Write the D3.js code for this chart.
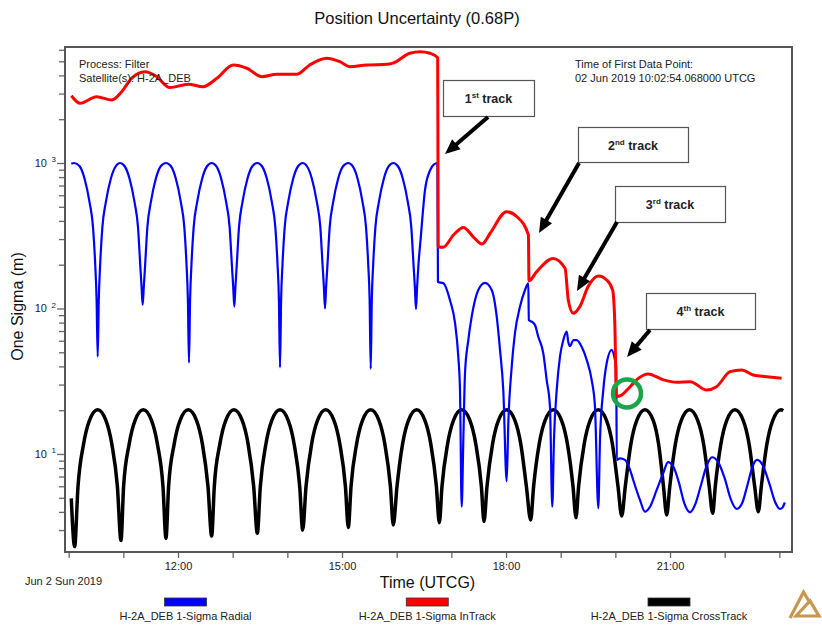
<!DOCTYPE html>
<html>
<head>
<meta charset="utf-8">
<script src="https://cdn.jsdelivr.net/npm/d3@7"></script>
<style>
  body { margin: 0; background: #fff; }
</style>
</head>
<body>
<div id="chart"></div>
<script>
// ---- data (time in decimal hours UTCG on 2 Jun 2019, sigma in metres) ----
const inTrack = [
  [10.05, 2900], [10.21, 2570], [10.51, 2855], [10.79, 2710], [10.97, 3090], [11.15, 3820],
  [11.40, 4240], [11.61, 3920], [11.85, 3300], [12.19, 3480], [12.46, 3345], [12.71, 3820],
  [13.01, 4720], [13.26, 4480], [13.53, 3920], [13.81, 4070], [14.17, 4070], [14.41, 4720],
  [14.72, 5250], [14.96, 4970], [15.15, 4590], [15.45, 4720], [15.82, 4765], [15.93, 4860],
  [16.24, 5680], [16.43, 5820], [16.61, 5680], [16.75, 5300], [16.76, 266], [16.85, 264],
  [17.04, 320], [17.22, 361], [17.40, 311], [17.56, 277], [17.71, 329], [18.01, 462],
  [18.20, 427], [18.41, 320], [18.42, 155], [18.56, 179], [18.86, 221], [19.08, 189],
  [19.14, 114], [19.23, 92.7], [19.35, 103], [19.50, 141], [19.69, 167], [19.84, 157],
  [19.95, 134], [19.99, 79], [20.02, 24.8], [20.12, 25.5], [20.27, 29], [20.42, 33.1],
  [20.60, 35.5], [20.88, 32.3], [21.12, 31.1], [21.37, 31.4], [21.67, 27.5], [21.85, 29],
  [22.10, 36.8], [22.31, 37.8], [22.52, 34.9], [22.77, 34], [23.04, 33.1]
];

const radial = [
  [10.048, 990], [10.10, 1000],
  [10.201, 950], [10.291, 780], [10.381, 540], [10.446, 360], [10.486, 200], [10.511, 115], [10.531, 46.7],
  [10.551, 115], [10.576, 200], [10.616, 360], [10.681, 540], [10.771, 780], [10.861, 950], [10.939, 1000],
  [11.024, 950], [11.114, 780], [11.204, 540], [11.269, 360], [11.309, 200], [11.334, 140], [11.354, 106],
  [11.374, 140], [11.399, 200], [11.439, 360], [11.504, 540], [11.594, 780], [11.684, 950], [11.780, 1000],
  [11.871, 950], [11.961, 780], [12.051, 540], [12.116, 360], [12.156, 200], [12.181, 115], [12.201, 42.4],
  [12.221, 115], [12.246, 200], [12.286, 360], [12.351, 540], [12.441, 780], [12.531, 950], [12.616, 1000],
  [12.700, 950], [12.790, 780], [12.880, 540], [12.945, 360], [12.985, 200], [13.010, 140], [13.030, 103],
  [13.050, 140], [13.075, 200], [13.115, 360], [13.180, 540], [13.270, 780], [13.360, 950], [13.451, 1000],
  [13.536, 950], [13.626, 780], [13.716, 540], [13.781, 360], [13.821, 200], [13.846, 115], [13.866, 39.4],
  [13.886, 115], [13.911, 200], [13.951, 360], [14.016, 540], [14.106, 780], [14.196, 950], [14.281, 1000],
  [14.359, 950], [14.449, 780], [14.539, 540], [14.604, 360], [14.644, 200], [14.669, 140], [14.689, 100],
  [14.709, 140], [14.734, 200], [14.774, 360], [14.839, 540], [14.929, 780], [15.019, 950], [15.115, 1000],
  [15.195, 950], [15.285, 780], [15.375, 540], [15.440, 360], [15.480, 200], [15.505, 115], [15.525, 38.4],
  [15.545, 115], [15.570, 200], [15.610, 360], [15.675, 540], [15.765, 780], [15.855, 950], [15.938, 1000],
  [16.023, 950], [16.113, 780], [16.203, 540], [16.268, 360], [16.308, 200], [16.333, 140], [16.353, 99],
  [16.373, 140], [16.398, 200], [16.438, 300], [16.518, 650], [16.610, 890], [16.683, 980], [16.745, 1000],
  [16.755, 152], [16.853, 149], [16.975, 114], [17.067, 79.5], [17.127, 46.7], [17.158, 27.5], [17.189, 4.34],
  [17.219, 12.5], [17.250, 36.1], [17.310, 60.7], [17.372, 87.9], [17.493, 134], [17.615, 150], [17.738, 134],
  [17.830, 87.9], [17.890, 51.9], [17.950, 27.5], [18.012, 6.5], [18.042, 16.3], [18.104, 39.8], [18.164, 67.9],
  [18.256, 103], [18.347, 134], [18.408, 149], [18.417, 83.4], [18.470, 81.1], [18.530, 77.0], [18.590, 64.0],
  [18.682, 49.2], [18.744, 32.2], [18.804, 21.1], [18.846, 4.34], [18.877, 12.5], [18.927, 27.5], [18.987, 46.7],
  [19.048, 60.7], [19.110, 69.3], [19.139, 58.9], [19.170, 55.2], [19.231, 60.7], [19.293, 60.7], [19.384, 54.6],
  [19.476, 44.3], [19.567, 32.2], [19.627, 21.1], [19.688, 4.24], [19.719, 12.5], [19.779, 27.5], [19.841, 42.0],
  [19.933, 51.9], [19.993, 44.3], [20.015, 40], [20.026, 9.1],
  [20.084, 9.34], [20.176, 9.1], [20.267, 7.8], [20.328, 6.6], [20.450, 4.83], [20.542, 4.01], [20.634, 4.34],
  [20.756, 5.66], [20.877, 7.4], [20.963, 8.8], [21.06, 8.2], [21.16, 6.4], [21.26, 4.6], [21.365, 3.97],
  [21.46, 4.5], [21.56, 6.0], [21.67, 8.3], [21.768, 9.5], [21.88, 8.8], [22.0, 6.8], [22.11, 4.9],
  [22.22, 4.19], [22.32, 4.6], [22.42, 6.2], [22.51, 8.2], [22.591, 9.1], [22.70, 8.3], [22.82, 6.2],
  [22.92, 4.7], [23.012, 4.19], [23.06, 4.3], [23.10, 4.64]
];

const crossTrack = [
  [10.048, 4.95], [10.109, 2.31],
  [10.171, 6.0], [10.271, 11.6], [10.381, 17.0], [10.531, 20.1], [10.681, 17.0], [10.791, 11.6], [10.891, 6.0], [10.957, 2.54],
  [11.005, 6.0], [11.105, 11.6], [11.215, 17.0], [11.365, 20.1], [11.515, 17.0], [11.625, 11.6], [11.725, 6.0], [11.780, 2.63],
  [11.828, 6.0], [11.928, 11.6], [12.038, 17.0], [12.188, 20.1], [12.338, 17.0], [12.448, 11.6], [12.548, 6.0], [12.616, 2.73],
  [12.664, 6.0], [12.764, 11.6], [12.874, 17.0], [13.024, 20.1], [13.174, 17.0], [13.284, 11.6], [13.384, 6.0], [13.451, 2.85],
  [13.506, 6.0], [13.606, 11.6], [13.716, 17.0], [13.866, 20.1], [14.016, 17.0], [14.126, 11.6], [14.226, 6.0], [14.281, 3.0],
  [14.342, 6.0], [14.442, 11.6], [14.552, 17.0], [14.702, 20.1], [14.852, 17.0], [14.962, 11.6], [15.062, 6.0], [15.115, 3.13],
  [15.165, 6.0], [15.265, 11.6], [15.375, 17.0], [15.525, 20.1], [15.675, 17.0], [15.785, 11.6], [15.885, 6.0], [15.938, 3.25],
  [16.006, 6.0], [16.106, 11.6], [16.216, 17.0], [16.366, 20.1], [16.516, 17.0], [16.626, 11.6], [16.726, 6.0], [16.780, 3.37],
  [16.829, 6.0], [16.929, 11.6], [17.039, 17.0], [17.189, 20.1], [17.339, 17.0], [17.449, 11.6], [17.549, 6.0], [17.597, 3.43],
  [17.652, 6.0], [17.752, 11.6], [17.862, 17.0], [18.012, 20.1], [18.162, 17.0], [18.272, 11.6], [18.372, 6.0], [18.451, 3.52],
  [18.505, 6.0], [18.605, 11.6], [18.715, 17.0], [18.865, 20.1], [19.015, 17.0], [19.125, 11.6], [19.225, 6.0], [19.280, 3.65],
  [19.328, 6.0], [19.428, 11.6], [19.538, 17.0], [19.688, 20.1], [19.838, 17.0], [19.948, 11.6], [20.048, 6.0], [20.116, 3.75],
  [20.182, 6.0], [20.282, 11.6], [20.392, 17.0], [20.542, 20.1], [20.692, 17.0], [20.792, 11.6], [20.880, 6.0], [20.939, 3.81],
  [20.996, 6.0], [21.096, 11.6], [21.206, 17.0], [21.356, 20.1], [21.506, 17.0], [21.616, 11.6], [21.716, 6.0], [21.780, 3.91],
  [21.828, 6.0], [21.928, 11.6], [22.038, 17.0], [22.188, 20.1], [22.338, 17.0], [22.448, 11.6], [22.548, 6.0], [22.615, 4.01],
  [22.670, 6.0], [22.770, 11.6], [22.880, 17.0], [23.030, 20.1], [23.07, 19.8]
];

const timeDomain = [9.933, 23.231];   // hours
const sigmaDomain = [2.12, 6270];     // metres
const hourTicks = d3.range(10, 24);
const labelledHours = [12, 15, 18, 21];
const decades = [10, 100, 1000];

const seriesNames = ["H-2A_DEB 1-Sigma Radial", "H-2A_DEB 1-Sigma InTrack", "H-2A_DEB 1-Sigma CrossTrack"];
const seriesColors = ["#0000ff", "#ff0000", "#000000"];

// callout boxes and arrows (page pixels)
const callouts = [
  { n: "1", sup: "st", x: 443, y: 80, w: 91, h: 36 },
  { n: "2", sup: "nd", x: 578, y: 127, w: 110, h: 35 },
  { n: "3", sup: "rd", x: 615, y: 186, w: 110, h: 36 },
  { n: "4", sup: "th", x: 646, y: 293, w: 109, h: 36 }
];
const arrows = [
  { from: [488, 117], to: [445, 154] },
  { from: [579, 163], to: [539, 233] },
  { from: [617, 222], to: [577, 291] },
  { from: [650, 330], to: [627, 357] }
];

// ---- layout ----
const W = 822, H = 625;
const margin = { top: 47, right: 30, bottom: 73, left: 65 };
const plotW = W - margin.left - margin.right;
const plotH = H - margin.top - margin.bottom;
const font = "'Liberation Sans', Arial, sans-serif";

const svg = d3.select("#chart").append("svg")
  .attr("width", W)
  .attr("height", H)
  .style("font-family", font);

svg.append("rect").attr("width", W).attr("height", H).attr("fill", "#fff");

svg.append("defs").append("clipPath").attr("id", "plot-clip")
  .append("rect").attr("width", plotW).attr("height", plotH);

const g = svg.append("g").attr("transform", `translate(${margin.left},${margin.top})`);

// scales
const x = d3.scaleLinear().domain(timeDomain).range([0, plotW]);
const y = d3.scaleLog().domain(sigmaDomain).range([plotH, 0]);

// x axis
g.append("g")
  .attr("transform", `translate(0,${plotH})`)
  .call(d3.axisBottom(x).tickValues(hourTicks).tickSize(6)
    .tickFormat(d => labelledHours.includes(d) ? `${d}:00` : ""))
  .call(a => a.select(".domain").remove())
  .call(a => a.selectAll("line").attr("stroke", "#666").attr("stroke-width", 1.3))
  .call(a => a.selectAll("text").attr("font-size", 11).attr("font-family", font)
    .attr("fill", "#222").attr("y", 10));

// y axis (log, minor ticks every 1..9)
const yAxisG = g.append("g")
  .call(d3.axisLeft(y).tickValues(y.ticks()).tickSize(6).tickFormat(""))
  .call(a => a.select(".domain").remove());
yAxisG.selectAll(".tick line")
  .attr("stroke", "#666").attr("stroke-width", 1.3)
  .attr("x2", d => decades.includes(d) ? -8 : -6);

decades.forEach(d => {
  g.append("text")
    .attr("x", -18).attr("y", y(d) + 4)
    .attr("text-anchor", "end").attr("font-size", 11).attr("fill", "#222")
    .text("10");
  g.append("text")
    .attr("x", -13.5).attr("y", y(d) - 0.5)
    .attr("font-size", 8).attr("fill", "#222")
    .text(Math.round(Math.log10(d)));
});

// series
const line = d3.line()
  .x(d => x(d[0]))
  .y(d => y(d[1]))
  .curve(d3.curveMonotoneX);

const plot = g.append("g").attr("clip-path", "url(#plot-clip)");
plot.append("path").datum(crossTrack)
  .attr("fill", "none").attr("stroke", seriesColors[2]).attr("stroke-width", 3.5)
  .attr("stroke-linejoin", "round").attr("d", line);
plot.append("path").datum(radial)
  .attr("fill", "none").attr("stroke", seriesColors[0]).attr("stroke-width", 2.2)
  .attr("stroke-linejoin", "round").attr("d", line);
plot.append("path").datum(inTrack)
  .attr("fill", "none").attr("stroke", seriesColors[1]).attr("stroke-width", 3)
  .attr("stroke-linejoin", "round").attr("d", line);

// frame
g.append("rect")
  .attr("width", plotW).attr("height", plotH)
  .attr("fill", "none").attr("stroke", "#555").attr("stroke-width", 2);

// in-plot info text
const info = g.append("g").attr("font-size", 11).attr("fill", "#222");
info.append("text").attr("x", 14).attr("y", 21).text("Process: Filter");
info.append("text").attr("x", 14).attr("y", 35).text("Satellite(s): H-2A_DEB");
info.append("text").attr("x", 510).attr("y", 21).text("Time of First Data Point:");
info.append("text").attr("x", 510).attr("y", 35).text("02 Jun 2019 10:02:54.068000 UTCG");

// titles
svg.append("text")
  .attr("x", 417).attr("y", 24).attr("text-anchor", "middle")
  .attr("font-size", 16.5).attr("fill", "#111")
  .text("Position Uncertainty (0.68P)");

svg.append("text")
  .attr("transform", `translate(23,${margin.top + plotH / 2 + 7}) rotate(-90)`)
  .attr("text-anchor", "middle").attr("font-size", 16).attr("fill", "#111")
  .text("One Sigma (m)");

svg.append("text")
  .attr("x", 427.5).attr("y", 588).attr("text-anchor", "middle")
  .attr("font-size", 16).attr("fill", "#111")
  .text("Time (UTCG)");

svg.append("text")
  .attr("x", 25).attr("y", 584.5)
  .attr("font-size", 11).attr("fill", "#222")
  .text("Jun 2 Sun 2019");

// legend
const legend = svg.append("g");
seriesNames.forEach((name, i) => {
  const cx = 185.5 + i * 241.75;
  legend.append("rect")
    .attr("x", cx - 21).attr("y", 598).attr("width", 42).attr("height", 8)
    .attr("fill", seriesColors[i]).attr("stroke", "#333").attr("stroke-width", 0.8);
  legend.append("text")
    .attr("x", cx).attr("y", 619.5).attr("text-anchor", "middle")
    .attr("font-size", 11).attr("fill", "#222")
    .text(name);
});

// callouts
const ann = svg.append("g");
callouts.forEach(c => {
  ann.append("rect")
    .attr("x", c.x + 0.5).attr("y", c.y + 0.5).attr("width", c.w).attr("height", c.h)
    .attr("fill", "#fff").attr("stroke", "#555").attr("stroke-width", 1.2);
  const t = ann.append("text")
    .attr("x", c.x + c.w / 2).attr("y", c.y + c.h / 2 + 5)
    .attr("text-anchor", "middle").attr("font-size", 12.5).attr("font-weight", "bold")
    .attr("fill", "#222");
  t.append("tspan").text(c.n);
  t.append("tspan").attr("font-size", 8).attr("dy", -5).text(c.sup);
  t.append("tspan").attr("dy", 5).text(" track");
});

arrows.forEach(a => {
  const dx = a.to[0] - a.from[0], dy = a.to[1] - a.from[1];
  const len = Math.hypot(dx, dy);
  const ux = dx / len, uy = dy / len;
  const hl = 15, hw = 6.5;
  const bx = a.to[0] - ux * hl, by = a.to[1] - uy * hl;
  ann.append("line")
    .attr("x1", a.from[0]).attr("y1", a.from[1])
    .attr("x2", bx + ux * 3).attr("y2", by + uy * 3)
    .attr("stroke", "#000").attr("stroke-width", 4);
  ann.append("path")
    .attr("d", `M${a.to[0]},${a.to[1]} L${bx - uy * hw},${by + ux * hw} L${bx + uy * hw},${by - ux * hw} Z`)
    .attr("fill", "#000");
});

ann.append("circle")
  .attr("cx", 627).attr("cy", 393.5).attr("r", 14)
  .attr("fill", "none").attr("stroke", "#19a64b").attr("stroke-width", 4.5);

// logo
const logo = svg.append("g").attr("fill", "none").attr("stroke", "#c8964e")
  .attr("stroke-width", 3.2).attr("stroke-linejoin", "miter");
logo.append("path").attr("d", "M790,618 L803.5,592 L810,603");
logo.append("path").attr("d", "M796,616 L810,601 L819,616 Z");
</script>
</body>
</html>
